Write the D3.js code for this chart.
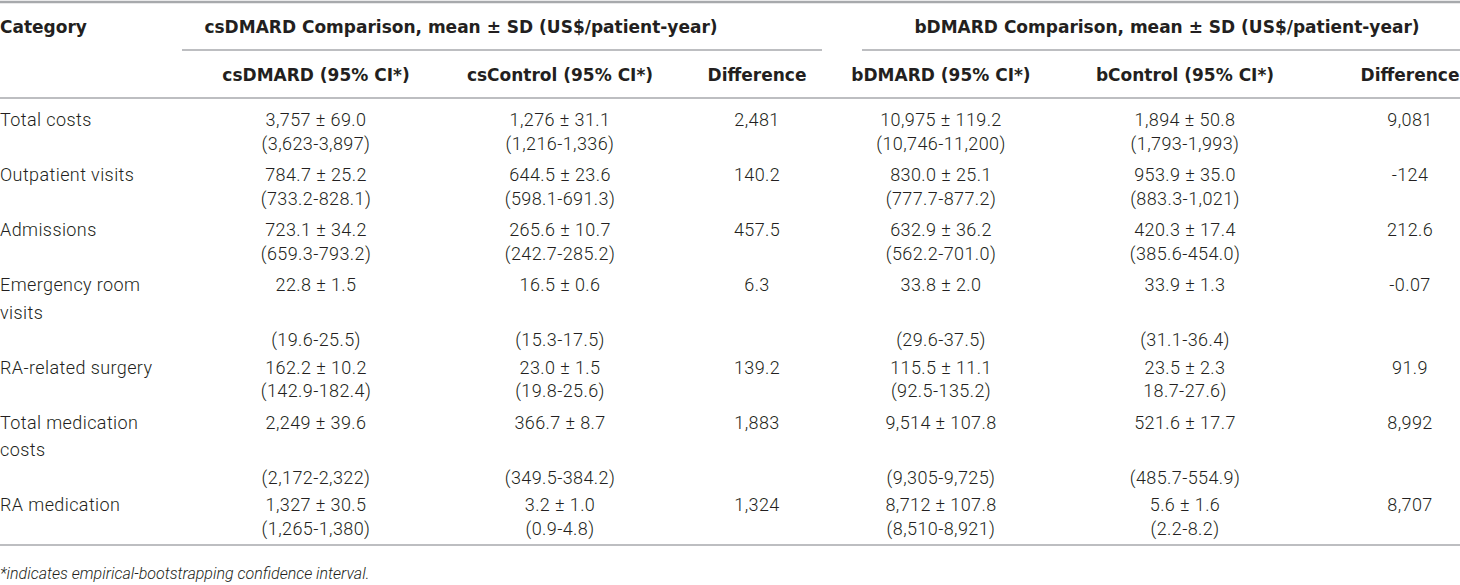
<!DOCTYPE html>
<html>
<head>
<meta charset="utf-8">
<script src="https://cdn.jsdelivr.net/npm/d3@7"></script>
<style>
  html, body { margin: 0; padding: 0; background: #fff; }
  svg { display: block; }
</style>
</head>
<body>
<svg id="chart" width="1460" height="585"></svg>
<script>
// ---------- DATA ----------
const categories = [
  ["Total costs"],
  ["Outpatient visits"],
  ["Admissions"],
  ["Emergency room", "visits"],
  ["RA-related surgery"],
  ["Total medication", "costs"],
  ["RA medication"]
];
const groupHeaders = [
  "csDMARD Comparison, mean \u00b1 SD (US$/patient-year)",
  "bDMARD Comparison, mean \u00b1 SD (US$/patient-year)"
];
const columnHeaders = ["Category", "csDMARD (95% CI*)", "csControl (95% CI*)", "Difference",
                       "bDMARD (95% CI*)", "bControl (95% CI*)", "Difference"];
const csDMARD = ["3,757 \u00b1 69.0", "784.7 \u00b1 25.2", "723.1 \u00b1 34.2", "22.8 \u00b1 1.5", "162.2 \u00b1 10.2", "2,249 \u00b1 39.6", "1,327 \u00b1 30.5"];
const csDMARDci = ["(3,623-3,897)", "(733.2-828.1)", "(659.3-793.2)", "(19.6-25.5)", "(142.9-182.4)", "(2,172-2,322)", "(1,265-1,380)"];
const csControl = ["1,276 \u00b1 31.1", "644.5 \u00b1 23.6", "265.6 \u00b1 10.7", "16.5 \u00b1 0.6", "23.0 \u00b1 1.5", "366.7 \u00b1 8.7", "3.2 \u00b1 1.0"];
const csControlci = ["(1,216-1,336)", "(598.1-691.3)", "(242.7-285.2)", "(15.3-17.5)", "(19.8-25.6)", "(349.5-384.2)", "(0.9-4.8)"];
const csDiff = ["2,481", "140.2", "457.5", "6.3", "139.2", "1,883", "1,324"];
const bDMARD = ["10,975 \u00b1 119.2", "830.0 \u00b1 25.1", "632.9 \u00b1 36.2", "33.8 \u00b1 2.0", "115.5 \u00b1 11.1", "9,514 \u00b1 107.8", "8,712 \u00b1 107.8"];
const bDMARDci = ["(10,746-11,200)", "(777.7-877.2)", "(562.2-701.0)", "(29.6-37.5)", "(92.5-135.2)", "(9,305-9,725)", "(8,510-8,921)"];
const bControl = ["1,894 \u00b1 50.8", "953.9 \u00b1 35.0", "420.3 \u00b1 17.4", "33.9 \u00b1 1.3", "23.5 \u00b1 2.3", "521.6 \u00b1 17.7", "5.6 \u00b1 1.6"];
const bControlci = ["(1,793-1,993)", "(883.3-1,021)", "(385.6-454.0)", "(31.1-36.4)", "18.7-27.6)", "(485.7-554.9)", "(2.2-8.2)"];
const bDiff = ["9,081", "-124", "212.6", "-0.07", "91.9", "8,992", "8,707"];
const footnote = "*indicates empirical-bootstrapping confidence interval.";

// ---------- LAYOUT ----------
const W = 1460;
const svg = d3.select("#chart");
const FONT = "Roboto, 'Liberation Sans', Arial, sans-serif";
const HFONT = "'DejaVu Sans', 'Liberation Sans', Arial, sans-serif";
const TXT = "#231f20";
const RULE = "#a7a9ac";

// column centres (x) for data columns
const colX = d3.scaleOrdinal().domain(d3.range(7)).range([0, 316, 560, 757, 941, 1185, 1410]);

// row layout: lines per row
const rows = categories.map((cat, i) => {
  const ciLine = cat.length > 1 ? 2 : 1;
  const n = Math.max(cat.length, ciLine + 1);
  return {i, cat, ciLine, n};
});
let cum = 0;
rows.forEach(r => { r.start = cum; cum += r.n; });
const yRow = d3.scaleLinear().domain([0, 1]).range([120, 147.5]);
const lineStep = n => n === 3 ? 27.5 : 23.5;
rows.forEach(r => { r.y = k => yRow(r.start) + k * lineStep(r.n); });

// rules
const rules = [
  {x1: 0, x2: W, y: 2, w: 2.5},
  {x1: 182, x2: 822, y: 50, w: 1.3},
  {x1: 862, x2: W, y: 50, w: 1.3},
  {x1: 0, x2: W, y: 98, w: 1.6},
  {x1: 0, x2: W, y: 545, w: 1.6}
];
svg.selectAll("line.rule").data(rules).join("line")
  .attr("class", "rule")
  .attr("x1", d => d.x1).attr("x2", d => d.x2)
  .attr("y1", d => d.y).attr("y2", d => d.y)
  .attr("stroke", RULE).attr("stroke-width", d => d.w);

const g = svg.append("g").attr("font-family", FONT).attr("fill", TXT);
const h = svg.append("g").attr("font-family", HFONT).attr("fill", TXT)
  .attr("font-size", 17).attr("font-weight", 700);

// headers
h.append("text").attr("x", 0).attr("y", 27).attr("dy", "0.35em").text(columnHeaders[0]);
h.selectAll("text.grp").data(groupHeaders).join("text")
  .attr("class", "grp")
  .attr("x", (d, i) => i === 0 ? 461 : 1167)
  .attr("y", 27).attr("dy", "0.35em").attr("text-anchor", "middle")
  .text(d => d);
h.selectAll("text.colh").data(columnHeaders.slice(1)).join("text")
  .attr("class", "colh")
  .attr("x", (d, i) => colX(i + 1))
  .attr("y", 75).attr("dy", "0.35em").attr("text-anchor", "middle")
  .text(d => d);

// body cells
const meanCols = [csDMARD, csControl, csDiff, bDMARD, bControl, bDiff];
const ciCols = [csDMARDci, csControlci, null, bDMARDci, bControlci, null];
const cells = [];
rows.forEach(r => {
  r.cat.forEach((t, k) => cells.push({x: 0, y: r.y(k), t, anchor: "start"}));
  meanCols.forEach((col, c) => {
    cells.push({x: colX(c + 1), y: r.y(0), t: col[r.i], anchor: "middle"});
    if (ciCols[c]) cells.push({x: colX(c + 1), y: r.y(r.ciLine), t: ciCols[c][r.i], anchor: "middle"});
  });
});
g.selectAll("text.cell").data(cells).join("text")
  .attr("class", "cell")
  .attr("x", d => d.x).attr("y", d => d.y).attr("dy", "0.35em")
  .attr("text-anchor", d => d.anchor)
  .attr("font-size", 18).attr("font-weight", 300).attr("letter-spacing", 0.4)
  .text(d => d.t);

g.append("text").attr("x", 0).attr("y", 573).attr("dy", "0.35em")
  .attr("font-size", 16).attr("font-weight", 300).attr("font-style", "italic")
  .text(footnote);
</script>
</body>
</html>
